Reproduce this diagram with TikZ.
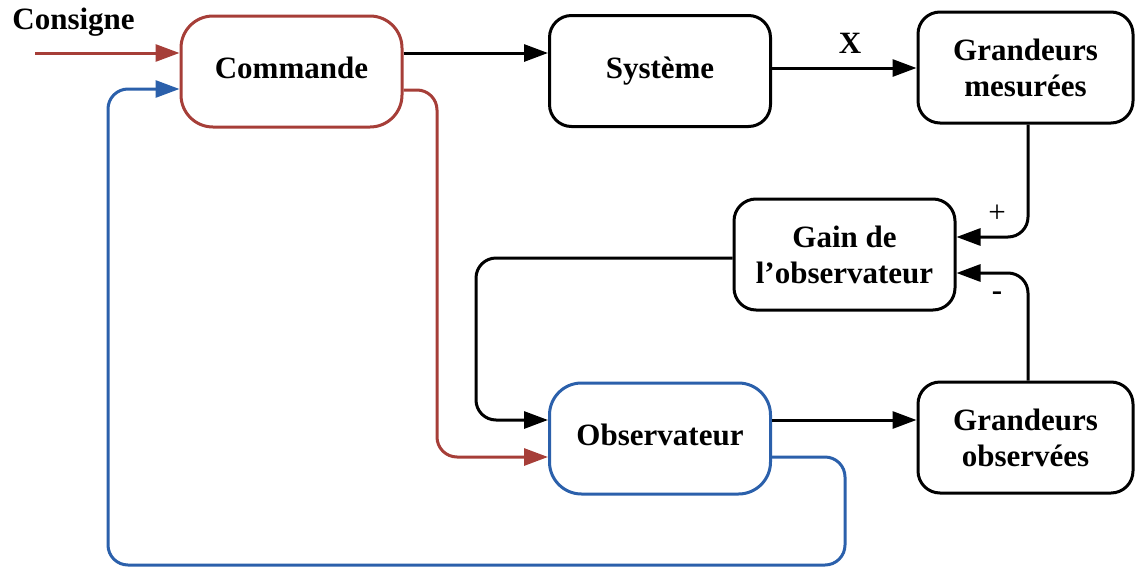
\documentclass[tikz,border=0pt]{standalone}
\usepackage{fontspec}
\setmainfont{Liberation Serif}
\usetikzlibrary{arrows.meta}
\definecolor{cmdred}{RGB}{166,62,56}
\definecolor{obsblue}{RGB}{43,96,171}
\tikzset{
  block/.style={draw, line width=1.5pt, rounded corners=11pt, inner sep=0pt,
    minimum width=110.5pt, minimum height=55.5pt, align=center,
    font=\fontsize{15.5}{18}\selectfont\bfseries},
  wide/.style={minimum width=107.5pt},
  link/.style={line width=1.5pt, rounded corners=10pt,
    -{Triangle[length=12pt,width=8.5pt]}},
  lbl/.style={font=\fontsize{15.5}{18}\selectfont\bfseries, inner sep=0pt},
}
\begin{document}
\begin{tikzpicture}[x=0.5pt,y=-0.5pt]
\useasboundingbox (0,0) rectangle (1135,568);

% blocks
\node[block, draw=cmdred, rounded corners=16pt] (cmd) at (291.5,71.5) {Commande\vphantom{g}};
\node[block] (sys) at (660,71) {Système\vphantom{g}};
\node[block, wide] (gm) at (1025.5,67.5) {Grandeurs\\mesurées};
\node[block] (gain) at (844.5,254.5) {Gain de\\l’observateur};
\node[block, draw=obsblue, rounded corners=16pt] (obs) at (660,438.5) {Observateur\vphantom{g}};
\node[block, wide] (go) at (1025.5,437.5) {Grandeurs\\observées};

% set point input
\node[lbl, anchor=west] (cons) at (12,22) {Consigne};
\coordinate (c0) at (35,53);
\draw[link, cmdred] (c0) -- (c0 -| cmd.west);

% forward chain
\draw[link] (cmd.east |- 0,53) -- (sys.west |- 0,53);
\draw[link] (sys.east |- 0,68) -- (gm.west |- 0,68);
\node[lbl] (xlab) at (850,43) {X};

% command to observer
\draw[link, cmdred] (cmd.east |- 0,90) -- (437,90) -- (437,457) -- (obs.west |- 0,457);

% observer feedback to command
\draw[link, obsblue] (obs.east |- 0,457) -- (845,457) -- (845,565) -- (108,565)
  -- (108,89) -- (cmd.west |- 0,89);

% gain loop
\draw[link] (gm.south -| 1028,0) -- (1028,237) -- (gain.east |- 0,237);
\draw[link] (go.north -| 1028,0) -- (1028,273) -- (gain.east |- 0,273);
\node[font=\fontsize{15.5}{18}\selectfont, inner sep=0pt] (plus) at (997,214) {+};
\node[lbl] (minus) at (997,296) {-};
\draw[link] (gain.west |- 0,258) -- (476,258) -- (476,420) -- (obs.west |- 0,420);
\draw[link] (obs.east |- 0,420) -- (go.west |- 0,420);
\end{tikzpicture}
\end{document}
